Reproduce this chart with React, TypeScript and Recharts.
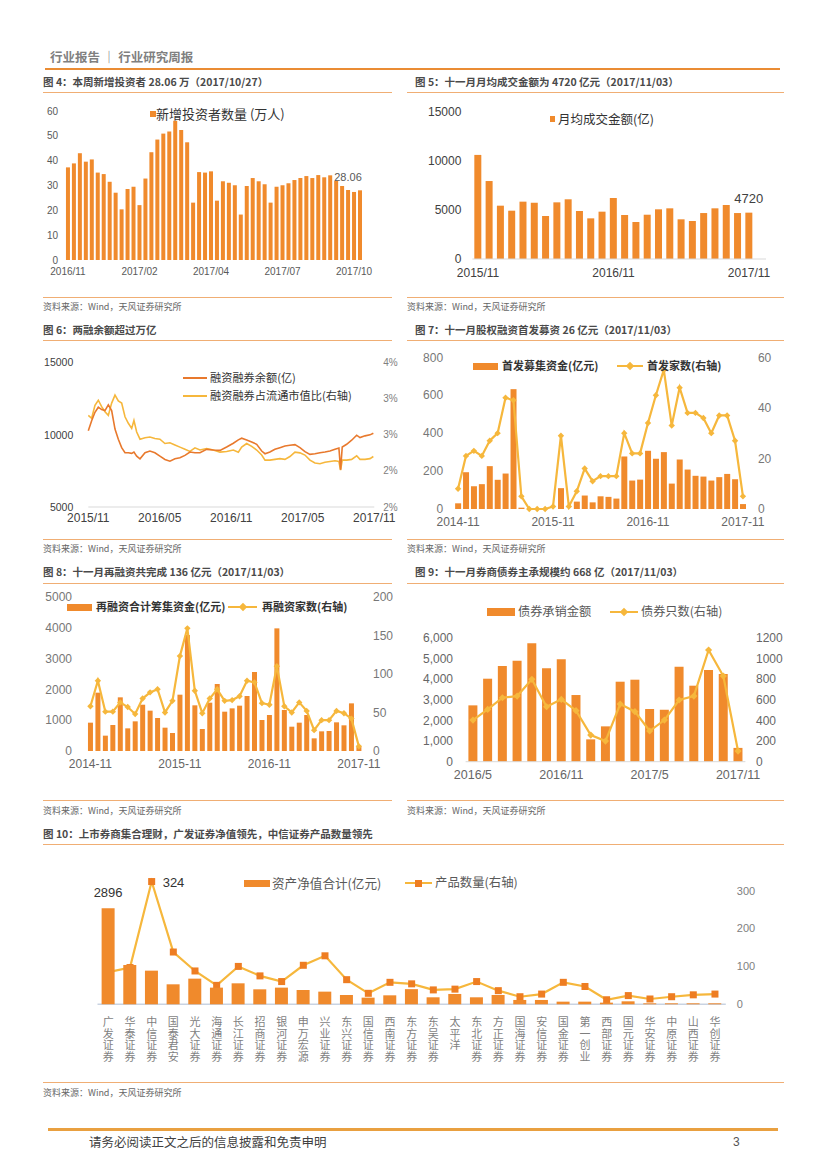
import React from 'react';
import { BarChart, Bar, LineChart, Line, ComposedChart, XAxis, YAxis, LabelList } from 'recharts';

const BAR = '#F08A2C';
const GOLD = '#F6B73C';
const RUST = '#E8792D';
const RULE = '#F0AE74';
const NUM = '"Liberation Sans", Arial, sans-serif';
const CJK = '"Noto Sans CJK SC", "Liberation Sans", sans-serif';

// 图4 weekly new investors (万人)
const investorWeeks = [
  '2016/11', '2016/11', '2016/11', '2016/11', '2016/12', '2016/12', '2016/12', '2016/12', '2016/12',
  '2017/01', '2017/01', '2017/01', '2017/02', '2017/02', '2017/02', '2017/02', '2017/03', '2017/03',
  '2017/03', '2017/03', '2017/03', '2017/04', '2017/04', '2017/04', '2017/04', '2017/05', '2017/05',
  '2017/05', '2017/05', '2017/06', '2017/06', '2017/06', '2017/06', '2017/06', '2017/07', '2017/07',
  '2017/07', '2017/07', '2017/08', '2017/08', '2017/08', '2017/08', '2017/09', '2017/09', '2017/09',
  '2017/09', '2017/10', '2017/10', '2017/10', '2017/10',
];
const newInvestors = [
  37.3, 38.9, 43.0, 39.6, 40.5, 35.2, 34.6, 31.5, 27.1, 20.4, 28.6, 29.5, 22.1, 32.8, 43.4, 48.5, 50.9,
  51.7, 56.1, 52.3, 47.4, 23.1, 35.4, 35.2, 35.7, 23.9, 31.7, 31.1, 30.1, 18.3, 29.8, 33.0, 31.7, 30.5,
  23.1, 29.5, 30.1, 30.9, 32.2, 33.0, 33.8, 33.0, 34.2, 33.3, 34.1, 31.9, 29.8, 28.2, 27.4, 28.06,
];

// 图5 monthly average turnover (亿)
const turnoverMonths = [
  '2015/11', '2015/12', '2016/01', '2016/02', '2016/03', '2016/04', '2016/05', '2016/06', '2016/07',
  '2016/08', '2016/09', '2016/10', '2016/11', '2016/12', '2017/01', '2017/02', '2017/03', '2017/04',
  '2017/05', '2017/06', '2017/07', '2017/08', '2017/09', '2017/10', '2017/11', '2017/12',
];
const avgTurnover = [
  10600, 7940, 5430, 4920, 5840, 5740, 4380, 5770, 6080, 4890, 4140, 4820, 6210, 4480, 3770, 4510,
  5060, 5160, 4040, 3870, 4680, 5160, 5500, 4680, 4720, null,
];

// 图6 margin balance (亿) and ratio to float cap (%)
const marginMonth = [
  0, 0.28, 0.56, 0.84, 1.12, 1.4, 1.68, 1.96, 2.24, 2.52, 2.8, 3.08, 3.36, 3.64, 3.83, 4.06, 4.34,
  4.76, 5.17, 5.59, 6.01, 6.43, 6.85, 7.27, 7.69, 8.11, 8.53, 8.95, 9.37, 9.93, 10.49, 11.05, 11.61,
  12.17, 12.59, 12.87, 13.29, 13.71, 14.13, 14.55, 14.83, 15.24, 15.66, 16.08, 16.5, 16.92, 17.34,
  17.76, 18.18, 18.6, 19.02, 19.44, 19.86, 20.28, 20.7, 21.03, 21.17, 21.31, 21.68, 22.1, 22.52, 22.8,
  23.22, 23.64, 23.92,
];
const marginBalance = [
  10280, 10981, 11565, 11916, 11752, 11682, 12079, 11682, 10397, 9696, 9112, 8762, 8762, 8715, 8809,
  8528, 8341, 8762, 8879, 8762, 8528, 8295, 8178, 8341, 8412, 8575, 8809, 8762, 8762, 8996, 8949, 8925,
  9159, 9416, 9650, 9766, 9650, 9509, 9346, 8879, 8692, 8809, 8996, 9112, 9229, 9276, 9323, 9112, 8832,
  8645, 8692, 8762, 8809, 8879, 8996, 9089, 7594, 9159, 9346, 9626, 9977, 9813, 9930, 10000, 10117,
];
const marginRatio = [
  3.27, 3.23, 3.41, 3.48, 3.39, 3.32, 3.27, 3.44, 3.55, 3.47, 3.44, 3.25, 3.16, 3.09, 3.2, 3.04, 2.94,
  2.96, 2.97, 2.95, 2.94, 2.88, 2.89, 2.86, 2.83, 2.8, 2.77, 2.82, 2.79, 2.81, 2.79, 2.76, 2.77, 2.79,
  2.76, 2.83, 2.88, 2.84, 2.79, 2.72, 2.65, 2.65, 2.66, 2.67, 2.66, 2.7, 2.76, 2.75, 2.72, 2.65, 2.61,
  2.6, 2.62, 2.63, 2.64, 2.63, 2.51, 2.65, 2.65, 2.66, 2.71, 2.66, 2.66, 2.67, 2.7,
];
const marginTickLabels = ['2015/11', '2016/05', '2016/11', '2017/05', '2017/11'];
const ratioTickLabels = ['2%', '2%', '3%', '3%', '4%'];

// 图7 / 图8 monthly series 2014-11 .. 2017-11
const equityMonths = [
  '2014-11', '2014-12', '2015-01', '2015-02', '2015-03', '2015-04', '2015-05', '2015-06', '2015-07',
  '2015-08', '2015-09', '2015-10', '2015-11', '2015-12', '2016-01', '2016-02', '2016-03', '2016-04',
  '2016-05', '2016-06', '2016-07', '2016-08', '2016-09', '2016-10', '2016-11', '2016-12', '2017-01',
  '2017-02', '2017-03', '2017-04', '2017-05', '2017-06', '2017-07', '2017-08', '2017-09', '2017-10',
  '2017-11',
];
const ipoFunds = [
  30, 194, 120, 131, 226, 154, 187, 632, 7, 0, 0, 0, 0, 110, 0, 39, 71, 35, 67, 64, 55, 277, 150, 155,
  307, 265, 300, 134, 261, 208, 175, 171, 150, 168, 185, 157, 26,
];
const ipoCount = [
  8, 21, 23, 21, 27, 30, 44, 43, 5, 0, 0, 0, 1, 29, 1, 7, 16, 11, 13, 13, 13, 30, 22, 22, 34, 45, 55,
  33, 48, 38, 38, 36, 30, 37, 37, 27, 5,
];
const refiFunds = [
  918, 1890, 497, 842, 1739, 734, 961, 1500, 1307, 1069, 756, 583, 1825, 3758, 1480, 713, 1566, 2171,
  1274, 1382, 1469, 1782, 2560, 1004, 1166, 3974, 1328, 788, 918, 1166, 410, 637, 648, 929, 832, 1544,
  136,
];
const refiCount = [
  58, 91, 51, 51, 63, 57, 48, 68, 76, 80, 50, 65, 123, 159, 78, 49, 68, 80, 65, 66, 71, 91, 89, 62,
  60, 110, 58, 50, 63, 52, 27, 40, 40, 52, 49, 42, 6,
];

// 图9 bond underwriting
const bondMonths = [
  '2016/5', '2016/6', '2016/7', '2016/8', '2016/9', '2016/10', '2016/11', '2016/12', '2017/1', '2017/2',
  '2017/3', '2017/4', '2017/5', '2017/6', '2017/7', '2017/8', '2017/9', '2017/10', '2017/11',
];
const bondAmount = [
  2726, 4016, 4629, 4887, 5726, 4516, 4952, 3226, 1081, 1710, 3871, 3968, 2549, 2516, 4597, 3678,
  4436, 4242, 668,
];
const bondCount = [403, 506, 619, 635, 797, 532, 603, 494, 258, 200, 558, 484, 297, 403, 597, 635, 1081, 829, 103];

// 图10 brokers' collective asset management
const brokers = [
  '广发证券', '华泰证券', '中信证券', '国泰君安', '光大证券', '海通证券', '长江证券', '招商证券', '银河证券',
  '申万宏源', '兴业证券', '东兴证券', '国信证券', '西南证券', '东方证券', '东吴证券', '太平洋', '东北证券',
  '方正证券', '国海证券', '安信证券', '国金证券', '第一创业', '西部证券', '国元证券', '华安证券', '中原证券',
  '山西证券', '华创证券',
];
const netAssets = [
  2896, 1186, 1015, 603, 774, 503, 633, 452, 503, 432, 382, 281, 201, 271, 457, 211, 312, 211, 281, 131,
  131, 80, 80, 50, 90, 30, 30, 30, 30,
];
const productCount = [
  85, 97, 324, 138, 88, 50, 100, 75, 60, 103, 128, 65, 29, 58, 54, 38, 40, 60, 36, 20, 27, 58, 47, 12,
  23, 14, 20, 25, 27,
];

const investorData = investorWeeks.map((w, i) => ({ week: w, value: newInvestors[i] }));
const turnoverData = turnoverMonths.map((m, i) => ({ month: m, value: avgTurnover[i] }));
const marginData = marginMonth.map((t, i) => ({ t, balance: marginBalance[i], ratio: marginRatio[i] }));
const ipoData = equityMonths.map((m, i) => ({ month: m, funds: ipoFunds[i], count: ipoCount[i] }));
const refiData = equityMonths.map((m, i) => ({ month: m, funds: refiFunds[i], count: refiCount[i] }));
const bondData = bondMonths.map((m, i) => ({ month: m, amount: bondAmount[i], count: bondCount[i] }));
const brokerData = brokers.map((b, i) => ({ name: b, assets: netAssets[i], products: productCount[i] }));

function Txt({ x, y, size, color = '#333', bold = false, family = CJK, children }: any) {
  return (
    <div
      style={{
        position: 'absolute', left: x, top: y - size * 0.7, fontSize: size, lineHeight: `${size * 1.4}px`,
        color, fontWeight: bold ? 700 : 400, fontFamily: family, whiteSpace: 'nowrap',
      }}
    >
      {children}
    </div>
  );
}

function Rule({ x1, x2, y, h = 1, color = RULE }: any) {
  return <div style={{ position: 'absolute', left: x1, top: y - h / 2, width: x2 - x1, height: h, background: color }} />;
}

function Swatch({ x, y, w, h, color = BAR }: any) {
  return <div style={{ position: 'absolute', left: x, top: y - h / 2, width: w, height: h, background: color }} />;
}

function LineKey({ x1, x2, y, color = GOLD, marker }: any) {
  const mid = (x1 + x2) / 2;
  return (
    <>
      <div style={{ position: 'absolute', left: x1, top: y - 1, width: x2 - x1, height: 2, background: color }} />
      {marker === 'diamond' && (
        <div style={{ position: 'absolute', left: mid - 3, top: y - 3, width: 6, height: 6, background: color, transform: 'rotate(45deg)' }} />
      )}
      {marker === 'square' && (
        <div style={{ position: 'absolute', left: mid - 3.5, top: y - 3.5, width: 7, height: 7, background: '#EE7D22' }} />
      )}
    </>
  );
}

const diamondDot = (size: number, color: string) => (p: any) => {
  const { cx, cy, index } = p;
  if (cx == null || cy == null) return <g key={index} />;
  return <path key={index} d={`M${cx},${cy - size}L${cx + size},${cy}L${cx},${cy + size}L${cx - size},${cy}Z`} fill={color} />;
};

const squareDot = (p: any) => {
  const { cx, cy, index } = p;
  if (cx == null || cy == null) return <g key={index} />;
  return <rect key={index} x={cx - 3.5} y={cy - 3.5} width={7} height={7} fill="#EE7D22" />;
};

// broker names are written top-to-bottom
const VerticalTick = (props: any) => {
  const { x, y, payload } = props;
  return (
    <text x={x} y={y + 12} writingMode="vertical-rl" fill="#7f7f7f" fontSize={11} fontFamily={CJK} style={{ letterSpacing: 0.7 }}>
      {payload.value}
    </text>
  );
};

function Section({ left, right, title, titleY, lineY, bottomY, sourceY, titleX }: any) {
  return (
    <>
      <Txt x={titleX} y={titleY} size={10.5} bold color="#4a4a4a">{title}</Txt>
      <Rule x1={left} x2={right} y={lineY} />
      <Rule x1={left} x2={right} y={bottomY} />
      <Txt x={left} y={sourceY} size={9} color="#666">资料来源：Wind，天风证券研究所</Txt>
    </>
  );
}

const abs = (left: number, top: number): React.CSSProperties => ({ position: 'absolute', left, top });

export default function App() {
  const tick = (size: number, fill: string, family = NUM) => ({ fontSize: size, fill, fontFamily: family });
  const brokerMargin = { top: 11.7, right: 27.2, bottom: 2.7, left: 0 };
  return (
    <div style={{ position: 'absolute', left: 0, top: 0, width: 827, height: 1169, background: '#fff', overflow: 'hidden', fontFamily: CJK }}>
      {/* page header */}
      <Txt x={50} y={57} size={12.5} bold color="#808080">行业报告 ｜ 行业研究周报</Txt>
      <Rule x1={45} x2={780} y={69} h={2} color="#EA8C34" />

      <Section left={43} right={392} titleX={43} titleY={82} lineY={92} bottomY={297} sourceY={307}
        title="图 4：本周新增投资者 28.06 万（2017/10/27）" />
      <Section left={407} right={784} titleX={415} titleY={82} lineY={92} bottomY={297} sourceY={307}
        title="图 5：十一月月均成交金额为 4720 亿元（2017/11/03）" />
      <Section left={43} right={392} titleX={43} titleY={330} lineY={340} bottomY={539} sourceY={549}
        title="图 6：两融余额超过万亿" />
      <Section left={407} right={784} titleX={415} titleY={330} lineY={340} bottomY={539} sourceY={549}
        title="图 7：十一月股权融资首发募资 26 亿元（2017/11/03）" />
      <Section left={43} right={392} titleX={43} titleY={572.5} lineY={583} bottomY={800} sourceY={811}
        title="图 8：十一月再融资共完成 136 亿元（2017/11/03）" />
      <Section left={407} right={784} titleX={415} titleY={572.5} lineY={583} bottomY={800} sourceY={811}
        title="图 9：十一月券商债券主承规模约 668 亿（2017/11/03）" />
      <Section left={43} right={784} titleX={43} titleY={834} lineY={844} bottomY={1082} sourceY={1093}
        title="图 10：上市券商集合理财，广发证券净值领先，中信证券产品数量领先" />

      {/* 图4 */}
      <div style={abs(43, 100)}>
        <BarChart width={350} height={185} data={investorData} margin={{ top: 11, right: 30, bottom: 5, left: 0 }} barCategoryGap="16%">
          <XAxis dataKey="week" interval={11} axisLine={false} tickLine={false} tickSize={3} tickMargin={5} height={20} tick={tick(10, '#595959')} />
          <YAxis domain={[0, 60]} ticks={[0, 10, 20, 30, 40, 50, 60]} width={22} axisLine={false} tickLine={false} tickSize={2} tickMargin={5} tick={tick(10, '#595959')} />
          <Bar dataKey="value" fill={BAR} isAnimationActive={false}>
            <LabelList
              dataKey="value"
              content={(p: any) =>
                p.index === newInvestors.length - 1 ? (
                  <text x={p.x + p.width / 2 - 12} y={p.y - 9} textAnchor="middle" fontSize={11} fill="#595959" fontFamily={NUM}>
                    {p.value}
                  </text>
                ) : null
              }
            />
          </Bar>
        </BarChart>
      </div>
      <Swatch x={150} y={114} w={5.5} h={5.5} />
      <Txt x={156} y={114} size={13} color="#333">新增投资者数量 (万人)</Txt>

      {/* 图5 */}
      <div style={abs(408, 100)}>
        <BarChart width={372} height={185} data={turnoverData} margin={{ top: 11.7, right: 14, bottom: 4, left: 0 }} barCategoryGap="17%">
          <XAxis dataKey="month" interval={11} axisLine={{ stroke: '#d9d9d9' }} tickLine={false} tickSize={3} tickMargin={6} height={22} tick={tick(12, '#404040')} />
          <YAxis domain={[0, 15000]} ticks={[0, 5000, 10000, 15000]} width={64.4} axisLine={false} tickLine={false} tickSize={3} tickMargin={8} tick={tick(12, '#404040')} />
          <Bar dataKey="value" fill={BAR} isAnimationActive={false}>
            <LabelList
              dataKey="value"
              content={(p: any) =>
                p.index === 24 ? (
                  <text x={p.x + p.width / 2} y={p.y - 10} textAnchor="middle" fontSize={13} fill="#404040" fontFamily={NUM}>
                    {p.value}
                  </text>
                ) : null
              }
            />
          </Bar>
        </BarChart>
      </div>
      <Swatch x={549.7} y={119} w={5.5} h={5.5} />
      <Txt x={558} y={119} size={12.5} color="#333">月均成交金额(亿)</Txt>

      {/* 图6 */}
      <div style={abs(43, 345)}>
        <LineChart width={365} height={190} data={marginData} margin={{ top: 17.7, right: 18, bottom: 3, left: 0 }}>
          <XAxis dataKey="t" type="number" domain={[0, 24]} ticks={[0, 6, 12, 18, 24]} tickFormatter={(v: number) => marginTickLabels[v / 6]}
            axisLine={{ stroke: '#d9d9d9' }} tickLine={false} tickSize={0} tickMargin={6} height={25} tick={tick(12, '#404040')} />
          <YAxis yAxisId="l" domain={[5000, 15000]} ticks={[5000, 10000, 15000]} width={45.3} axisLine={false} tickLine={false} tickSize={0} tickMargin={15} tick={tick(10.5, '#404040')} />
          <YAxis yAxisId="r" orientation="right" domain={[2, 4]} ticks={[2, 2.5, 3, 3.5, 4]} tickFormatter={(v: number, i: number) => ratioTickLabels[i]}
            width={15.7} axisLine={false} tickLine={false} tickSize={0} tickMargin={9} tick={tick(10, '#808080')} />
          <Line yAxisId="r" dataKey="ratio" stroke={GOLD} strokeWidth={1.6} dot={false} isAnimationActive={false} />
          <Line yAxisId="l" dataKey="balance" stroke={RUST} strokeWidth={1.6} dot={false} isAnimationActive={false} />
        </LineChart>
      </div>
      <LineKey x1={183} x2={207} y={378} color={RUST} />
      <Txt x={210} y={378} size={11.2}>融资融券余额(亿)</Txt>
      <LineKey x1={183} x2={207} y={396} color={GOLD} />
      <Txt x={210} y={396} size={11.2}>融资融券占流通市值比(右轴)</Txt>

      {/* 图7 */}
      <div style={abs(407, 345)}>
        <ComposedChart width={373} height={190} data={ipoData} margin={{ top: 12.3, right: 3.1, bottom: 2, left: 0 }} barCategoryGap="13%">
          <XAxis dataKey="month" interval={11} axisLine={false} tickLine={false} tickSize={0} tickMargin={8} height={24} tick={tick(12, '#666')} />
          <YAxis yAxisId="l" domain={[0, 800]} ticks={[0, 200, 400, 600, 800]} width={47.1} axisLine={false} tickLine={false} tickSize={0} tickMargin={11} tick={tick(12, '#777')} />
          <YAxis yAxisId="r" orientation="right" domain={[0, 60]} ticks={[0, 20, 40, 60]} width={30} axisLine={false} tickLine={false} tickSize={0} tickMargin={11} tick={tick(12, '#777')} />
          <Bar yAxisId="l" dataKey="funds" fill={BAR} isAnimationActive={false} />
          <Line yAxisId="r" dataKey="count" stroke={GOLD} strokeWidth={2.2} dot={diamondDot(3.2, GOLD)} isAnimationActive={false} />
        </ComposedChart>
      </div>
      <Swatch x={473} y={366} w={25} h={7} />
      <Txt x={502} y={366} size={11} bold>首发募集资金(亿元)</Txt>
      <LineKey x1={617} x2={643} y={366} marker="diamond" />
      <Txt x={647} y={366} size={11} bold>首发家数(右轴)</Txt>

      {/* 图8 */}
      <div style={abs(43, 585)}>
        <ComposedChart width={350} height={200} data={refiData} margin={{ top: 11.7, right: 0.4, bottom: 10, left: 0 }} barCategoryGap="17%">
          <XAxis dataKey="month" interval={11} axisLine={false} tickLine={false} tickSize={0} tickMargin={8} height={24} tick={tick(12, '#666')} />
          <YAxis yAxisId="l" domain={[0, 5000]} ticks={[0, 1000, 2000, 3000, 4000, 5000]} width={43.7} axisLine={false} tickLine={false} tickSize={0} tickMargin={14.7} tick={tick(12, '#777')} />
          <YAxis yAxisId="r" orientation="right" domain={[0, 200]} ticks={[0, 50, 100, 150, 200]} width={30} axisLine={false} tickLine={false} tickSize={0} tickMargin={10.4} tick={tick(12, '#777')} />
          <Bar yAxisId="l" dataKey="funds" fill={BAR} isAnimationActive={false} />
          <Line yAxisId="r" dataKey="count" stroke={GOLD} strokeWidth={2.2} dot={diamondDot(3.2, GOLD)} isAnimationActive={false} />
        </ComposedChart>
      </div>
      <Swatch x={67} y={607} w={25} h={7} />
      <Txt x={96} y={607} size={11} bold>再融资合计筹集资金(亿元)</Txt>
      <LineKey x1={228} x2={257} y={607} marker="diamond" />
      <Txt x={262} y={607} size={11} bold>再融资家数(右轴)</Txt>

      {/* 图9 */}
      <div style={abs(407, 625)}>
        <ComposedChart width={380} height={163} data={bondData} margin={{ top: 12.7, right: 6.6, bottom: 3.3, left: 0 }} barCategoryGap="19%">
          <XAxis dataKey="month" interval={5} axisLine={{ stroke: '#d9d9d9' }} tickLine={false} tickSize={0} tickMargin={8.5} height={23} tick={tick(12.5, '#666')} />
          <YAxis yAxisId="l" domain={[0, 6000]} ticks={[0, 1000, 2000, 3000, 4000, 5000, 6000]} tickFormatter={(v: number) => v.toLocaleString('en-US')}
            width={58.6} axisLine={false} tickLine={false} tickSize={0} tickMargin={12.6} tick={tick(12, '#666')} />
          <YAxis yAxisId="r" orientation="right" domain={[0, 1200]} ticks={[0, 200, 400, 600, 800, 1000, 1200]} width={35} axisLine={false} tickLine={false} tickSize={0} tickMargin={10.6} tick={tick(12, '#666')} />
          <Bar yAxisId="l" dataKey="amount" fill={BAR} isAnimationActive={false} />
          <Line yAxisId="r" dataKey="count" stroke={GOLD} strokeWidth={2.2} dot={diamondDot(3.6, GOLD)} isAnimationActive={false} />
        </ComposedChart>
      </div>
      <Swatch x={487} y={612} w={28} h={8} />
      <Txt x={518} y={612} size={12.2} color="#595959">债券承销金额</Txt>
      <LineKey x1={610} x2={638} y={612} marker="diamond" />
      <Txt x={641} y={612} size={12.2} color="#595959">债券只数(右轴)</Txt>

      {/* 图10: axes + product line underneath, bars drawn on a matching chart on top */}
      <div style={abs(43, 860)}>
        <ComposedChart width={740} height={212} data={brokerData} margin={brokerMargin}>
          <XAxis dataKey="name" scale="band" interval={0} axisLine={{ stroke: '#C9D3E2', strokeWidth: 1.5 }} tickLine={false} tickSize={0} tickMargin={0} height={65} tick={<VerticalTick />} />
          <YAxis yAxisId="l" domain={[0, 4000]} ticks={[0, 1000, 2000, 3000, 4000]} width={54.5} axisLine={false} tickLine={false} tickSize={0} tickMargin={19.5} tick={tick(11, '#595959')} />
          <YAxis yAxisId="r" orientation="right" domain={[0, 350]} ticks={[0, 100, 200, 300]} width={30} axisLine={false} tickLine={false} tickSize={0} tickMargin={11} tick={tick(11, '#808080')} />
          <Line yAxisId="r" dataKey="products" stroke={GOLD} strokeWidth={2.2} dot={squareDot} isAnimationActive={false}>
            <LabelList
              dataKey="products"
              content={(p: any) =>
                p.index === 2 ? (
                  <text x={p.x + 11} y={p.y + 5} fontSize={13} fill="#333" fontFamily={NUM}>{p.value}</text>
                ) : null
              }
            />
          </Line>
        </ComposedChart>
      </div>
      <div style={abs(43, 860)}>
        <ComposedChart width={740} height={212} data={brokerData} margin={brokerMargin} barCategoryGap="19%">
          <XAxis dataKey="name" scale="band" interval={0} axisLine={false} tickLine={false} tick={false} height={65} />
          <YAxis yAxisId="l" domain={[0, 4000]} width={54.5} axisLine={false} tickLine={false} tick={false} />
          <YAxis yAxisId="r" orientation="right" domain={[0, 350]} width={30} axisLine={false} tickLine={false} tick={false} />
          <Bar yAxisId="l" dataKey="assets" fill={BAR} isAnimationActive={false}>
            <LabelList
              dataKey="assets"
              content={(p: any) =>
                p.index === 0 ? (
                  <text x={p.x + p.width / 2} y={p.y - 11} textAnchor="middle" fontSize={13} fill="#333" fontFamily={NUM}>{p.value}</text>
                ) : null
              }
            />
          </Bar>
        </ComposedChart>
      </div>
      <Swatch x={244} y={883} w={26} h={7} />
      <Txt x={272} y={883} size={12.6} color="#595959">资产净值合计(亿元)</Txt>
      <LineKey x1={405} x2={432} y={883} marker="square" />
      <Txt x={435} y={883} size={12.4} color="#595959">产品数量(右轴)</Txt>

      {/* footer */}
      <Rule x1={48} x2={778} y={1129.5} h={2.5} color="#E9A040" />
      <Txt x={89} y={1142} size={12.5} color="#404040">请务必阅读正文之后的信息披露和免责申明</Txt>
      <Txt x={733} y={1142} size={12} color="#555" family={NUM}>3</Txt>
    </div>
  );
}
